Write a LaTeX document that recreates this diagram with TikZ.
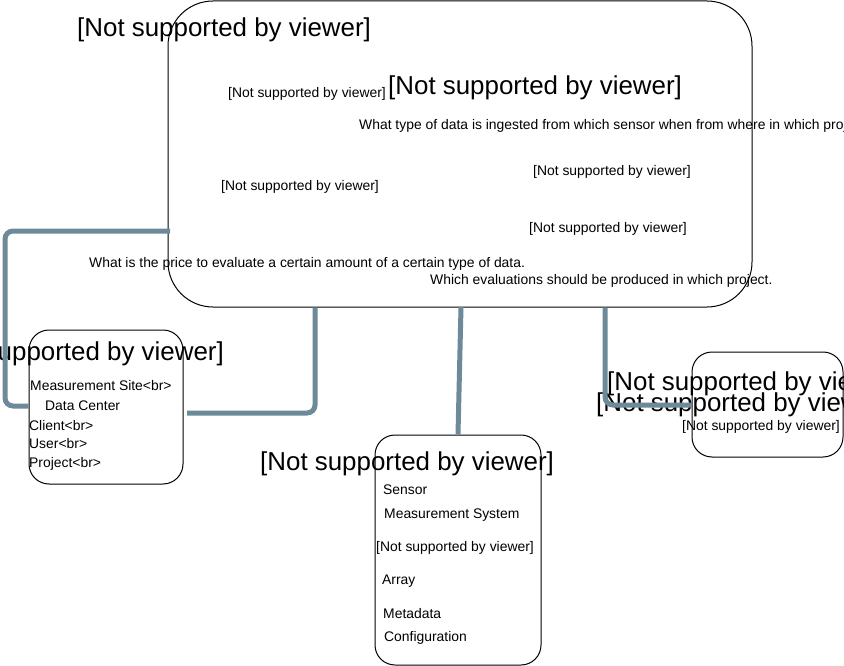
\documentclass[tikz,border=0pt]{standalone}
\usepackage{fontspec}
\setmainfont{Liberation Sans}
\usetikzlibrary{calc}
\begin{document}
\begin{tikzpicture}[x=1pt,y=-1pt,
  box/.style={draw=black,line width=1pt,fill=white,rounded corners=#1,inner sep=0},
  conn/.style={draw=connc,line width=5pt,rounded corners=8pt},
  sm/.style={anchor=base west,inner sep=0,font=\fontsize{13.9}{16}\selectfont},
  lg/.style={anchor=base west,inner sep=0,font=\fontsize{25.9}{30}\selectfont}]
\definecolor{connc}{RGB}{109,138,154}
\useasboundingbox (0,0) rectangle (844,666);
\clip (0,0) rectangle (844,666);
\fill[white] (0,0) rectangle (844,666);
% boxes
\node[box=45pt,minimum width=584pt,minimum height=306pt] (big) at (460,154) {};
\node[box=20pt,minimum width=154pt,minimum height=154pt] (left) at (106,407) {};
\node[box=20pt,minimum width=166pt,minimum height=230pt] (bottom) at (458,550) {};
\node[box=20pt,minimum width=151pt,minimum height=105pt] (right) at (767.5,404.5) {};
% texts in big box
\node[lg] (t1) at (77,37) {[Not supported by viewer]};
\node[sm] (t2) at (228,98) {[Not supported by viewer]};
\node[lg] (t3) at (388,95) {[Not supported by viewer]};
\node[sm] (t4) at (359,130) {What type of data is ingested from which sensor when from where in which project.};
\node[sm] (t5) at (533,176) {[Not supported by viewer]};
\node[sm] (t6) at (221,191) {[Not supported by viewer]};
\node[sm] (t7) at (529,233) {[Not supported by viewer]};
\node[sm] (t8) at (89,267) {What is the price to evaluate a certain amount of a certain type of data.};
\node[sm] (t9) at (430,284) {Which evaluations should be produced in which project.};
% left box texts
\node[lg,anchor=base east] (l0) at (224,360) {[Not supported by viewer]};
\node[sm] (l1) at (30,390) {Measurement Site<br>};
\node[sm] (l2) at (45,410) {Data Center};
\node[sm] (l3) at (29,430) {Client<br>};
\node[sm] (l4) at (29,448) {User<br>};
\node[sm] (l5) at (29,467) {Project<br>};
% right box texts
\node[lg] (r1) at (607,390) {[Not supported by viewer]};
\node[lg] (r2) at (596,411) {[Not supported by viewer]};
\node[sm] (r3) at (682,430) {[Not supported by viewer]};
% bottom box texts
\node[lg] (b0) at (260,470) {[Not supported by viewer]};
\node[sm] (b1) at (383,494) {Sensor};
\node[sm] (b2) at (384,518) {Measurement System};
\node[sm] (b3) at (376,551) {[Not supported by viewer]};
\node[sm] (b4) at (382,584) {Array};
\node[sm] (b5) at (383,618) {Metadata};
\node[sm] (b6) at (384,641) {Configuration};
% connectors
\coordinate (c1) at (170,231);
\coordinate (c1b) at (5,231);
\coordinate (c1c) at (5,406);
\draw[conn] (c1) -- (c1b) -- (c1c) -- (left.west |- c1c);
\coordinate (c2) at (315,413);
\coordinate (c2e) at (187,413);
\draw[conn] (big.south -| c2) -- (c2) -- (c2e);
\coordinate (c3) at (461,307);
\draw[conn] (c3) -- (bottom.north);
\coordinate (c4) at (605,405);
\draw[conn] (big.south -| c4) -- (c4) -- (right.west |- c4);
\end{tikzpicture}
\end{document}
